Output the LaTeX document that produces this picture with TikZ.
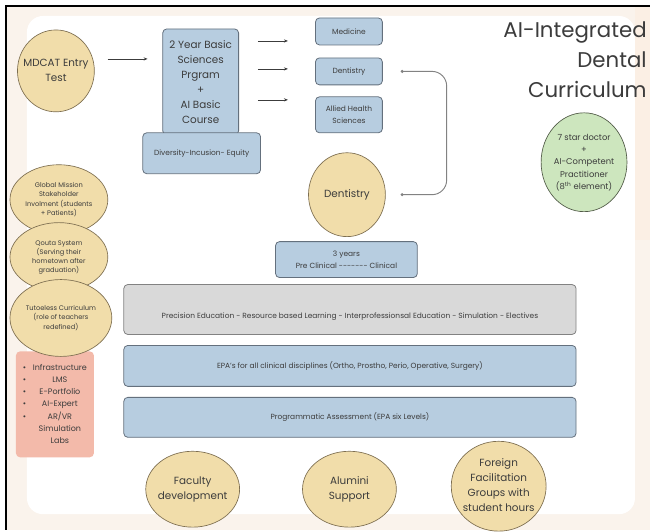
\documentclass[tikz,border=0pt]{standalone}
\usepackage{fontspec}
\setmainfont{Poppins}
\usetikzlibrary{arrows.meta, shapes.geometric}

\definecolor{boxblue}{RGB}{183,205,224}
\definecolor{boxline}{RGB}{100,112,125}
\definecolor{tanfill}{RGB}{241,221,170}
\definecolor{tanline}{RGB}{125,110,80}
\definecolor{greyfill}{RGB}{217,217,217}
\definecolor{greyline}{RGB}{130,130,130}
\definecolor{pinkfill}{RGB}{243,186,170}
\definecolor{greenfill}{RGB}{205,230,190}
\definecolor{greenline}{RGB}{80,90,70}
\definecolor{cream}{RGB}{250,243,236}
\definecolor{peach}{RGB}{251,239,228}
\definecolor{ink}{RGB}{60,60,60}

% font sizes
\newcommand{\fbig}{\fontsize{7.8}{11}\selectfont}
\newcommand{\fsmall}{\fontsize{5.6}{9}\selectfont}
\newcommand{\ftiny}{\fontsize{5}{6.9}\selectfont}
\newcommand{\fstar}{\fontsize{6.3}{9.3}\selectfont}
\newcommand{\flist}{\fontsize{6}{9.2}\selectfont}
% text that does not stretch its ellipse
\newcommand{\shrink}[1]{\makebox[0pt]{\raisebox{-0.25em}[0pt][0pt]{\begin{tabular}{@{}c@{}}#1\end{tabular}}}}

\tikzset{
  bbox/.style={draw=boxline, fill=boxblue, rounded corners=3pt, line width=0.6pt,
    align=center, inner sep=0pt, text=ink, font=\fsmall},
  circ/.style={ellipse, draw=tanline, fill=tanfill, line width=0.5pt,
    inner sep=0pt, text=ink, font=\fbig},
  arr/.style={-{Stealth[length=3pt,width=2.4pt]}, line width=0.5pt, draw=ink},
  bracket/.style={{Circle[length=2.2pt]}-{Circle[length=2.2pt]}, line width=0.7pt,
    draw=greyline, rounded corners=11pt},
}

\begin{document}
\begin{tikzpicture}[x=0.75pt, y=-0.75pt]
% background
\fill[white] (0,0) rectangle (651,531);
\fill[cream] (6,6) rectangle (651,531);
\fill[peach] (636,6) rectangle (651,240);
\fill[white, rounded corners=12pt] (27,16) rectangle (636,515);
\draw[line width=1.6pt] (5.5,6) -- (651,6);
\draw[line width=1.6pt] (6,5.5) -- (6,531);

% title
\node[anchor=north east, align=right, inner sep=0pt, text=ink,
  font=\fontsize{16}{22.5}\selectfont] (title) at (648,22) {AI-Integrated\\Dental\\Curriculum};

% top row
\node[circ, minimum width=57.75pt, minimum height=61.5pt] (mdcat) at (56,71) {\shrink{MDCAT Entry\\Test}};
\node[bbox, minimum width=57pt, minimum height=79.5pt, font=\fontsize{7.8}{11.25}\selectfont] (basic) at (201,82)
  {2 Year Basic\\Sciences\\Prgram\\+\\AI Basic\\Course};
\node[bbox, minimum width=88.5pt, minimum height=30.75pt] (div) at (202,153.5) {Diversity-Incusion- Equity};

\node[bbox, minimum width=50.25pt, minimum height=20.25pt] (med) at (349.5,31.5) {Medicine};
\node[bbox, minimum width=50.25pt, minimum height=20.25pt] (dbox) at (349.5,71.5) {Dentistry};
\node[bbox, minimum width=50.25pt, minimum height=27pt] (allied) at (349.5,115) {Allied Health\\Sciences};

\node[circ, minimum width=57.75pt, minimum height=63pt] (dent) at (347.5,195) {\shrink{Dentistry}};
\node[bbox, minimum width=106.5pt, minimum height=27pt] (years) at (347,260)
  {3 years\\Pre Clinical -{}-{}-{}-{}-{}-{}- Clinical};

% bars
\node[bbox, fill=greyfill, draw=greyline, minimum width=339.75pt, minimum height=37.5pt] (prec) at (350.5,310)
  {\raisebox{-7pt}[0pt][0pt]{Precision Education - Resource based Learning - Interprofessionsal Education - Simulation - Electives}};
\node[bbox, minimum width=339.75pt, minimum height=30.75pt] (epa) at (350.5,366.5)
  {EPA's for all clinical disciplines (Ortho, Prostho, Perio, Operative, Surgery)};
\node[bbox, minimum width=339.75pt, minimum height=30pt] (prog) at (350.5,418)
  {Programmatic Assessment (EPA six Levels)};

% bottom circles
\node[circ, minimum width=70.5pt, minimum height=57pt] (fac) at (193,490) {\shrink{Faculty\\development}};
\node[circ, minimum width=70.5pt, minimum height=57pt] (alum) at (350,490) {\shrink{Alumini\\Support}};
\node[circ, minimum width=71.25pt, minimum height=67.5pt, font=\fontsize{7.8}{11.25}\selectfont] (foreign) at (499.5,487)
  {\shrink{Foreign\\Facilitation\\Groups with\\student hours}};

% left column
\node[fill=pinkfill, rounded corners=3pt, minimum width=58.5pt, minimum height=79.5pt, inner sep=0pt,
  text=ink, font=\flist] (infra) at (55,405)
  {\begin{tabular}{@{}c@{\hspace{5pt}}c@{}}
   \textbullet & Infrastructure\\ \textbullet & LMS\\ \textbullet & E-Portfolio\\
   \textbullet & AI-Expert\\ \textbullet & AR/VR\\ & Simulation\\ & Labs
   \end{tabular}};
\node[circ, minimum width=73.5pt, minimum height=52.5pt, font=\ftiny] (global) at (59,200)
  {\shrink{Global Mission\\Stakeholder\\Involment (students\\+ Patients)}};
\node[circ, minimum width=73.5pt, minimum height=51.75pt, font=\ftiny] (qouta) at (59,257.5)
  {\shrink{Qouta System\\(Serving their\\hometown after\\graduation)}};
\node[circ, minimum width=76.5pt, minimum height=57.75pt, font=\ftiny] (tutor) at (61,318.5)
  {\shrink{Tutoeless Curriculum\\(role of teachers\\redefined)}};

% outcome
\node[ellipse, draw=greenline, fill=greenfill, line width=0.5pt, inner sep=0pt, text=ink, font=\fstar,
  minimum width=64.5pt, minimum height=74.25pt] (star) at (585,162.5)
  {\shrink{7 star doctor\\+\\AI-Competent\\Practitioner\\(8\textsuperscript{th} element)}};

% connectors
\draw[arr] ([shift={(13,-12)}]mdcat.east) -- ++(40,0);
\foreach \dy in {-41,-13,18}
  \draw[arr] ([shift={(19,\dy)}]basic.east) -- ++(30,0);
\draw[bracket] ([xshift=13.5pt]dbox.east) -- ++(46,0) |- ([xshift=11.25pt]dent.east);
\end{tikzpicture}
\end{document}
